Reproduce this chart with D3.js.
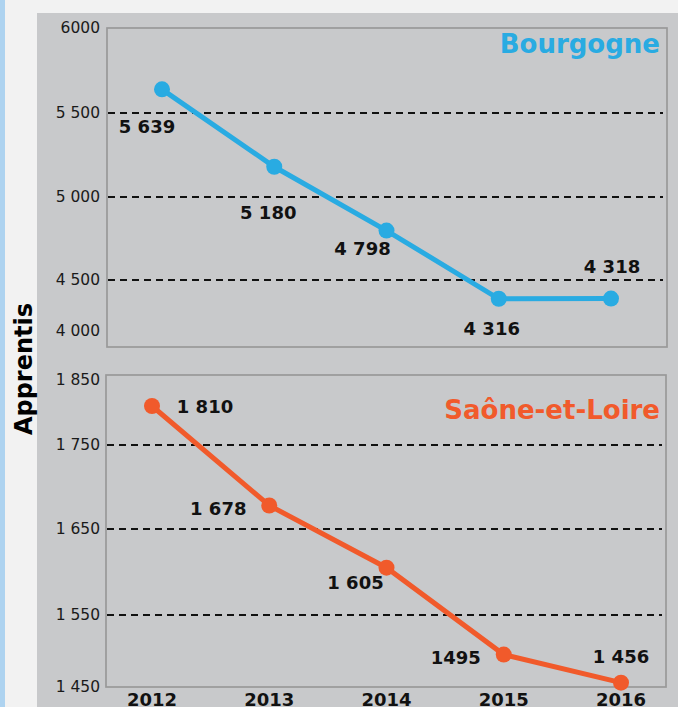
<!DOCTYPE html>
<html>
<head>
<meta charset="utf-8">
<script src="https://cdn.jsdelivr.net/npm/d3@7"></script>
<style>
  body { margin: 0; background: #f2f2f2; }
  svg { display: block; }
  text { font-family: "DejaVu Sans", Verdana, sans-serif; }
</style>
</head>
<body>
<div id="chart"></div>
<script>
/*
*    apprentis - Bourgogne / Saone-et-Loire
*/

var w = 678;
var h = 707;

// data
var years = [2012, 2013, 2014, 2015, 2016];
var bourgogne = [5639, 5180, 4798, 4316, 4318];
var bourgogneLabels = ["5 639", "5 180", "4 798", "4 316", "4 318"];
var saone = [1810, 1678, 1605, 1495, 1456];
var saoneLabels = ["1 810", "1 678", "1 605", "1495", "1 456"];

var bourgogneTicks = [4000, 4500, 5000, 5500, 6000];
var bourgogneTickLabels = ["4 000", "4 500", "5 000", "5 500", "6000"];
var saoneTicks = [1450, 1550, 1650, 1750, 1850];
var saoneTickLabels = ["1 450", "1 550", "1 650", "1 750", "1 850"];

// label placement (offsets from the point)
var bourgogneOffsets = [[-15, 37], [-6, 46], [-24, 18], [-7, 30], [1, -32]];
var saoneOffsets = [[53, 1], [-51, 3], [-31, 15], [-48, 3], [0, -26]];

var blue = "#29abe2";
var orange = "#f15a2b";

var svg = d3.select("#chart")
    .append("svg")
        .attr("width", w)
        .attr("height", h);

// backgrounds
svg.append("rect")
    .attr("x", 0).attr("y", 0)
    .attr("width", 5).attr("height", h)
    .attr("fill", "#aed3f0");

svg.append("rect")
    .attr("x", 37).attr("y", 13)
    .attr("width", w - 37).attr("height", h - 13)
    .attr("fill", "#c8c9cb");

// y title
svg.append("text")
    .attr("transform", "translate(32,369) rotate(-90)")
    .attr("text-anchor", "middle")
    .attr("font-size", 24)
    .attr("font-weight", "bold")
    .attr("fill", "#000")
    .text("Apprentis");

function panel(opt) {
    var g = svg.append("g");

    var x = d3.scalePoint()
        .domain(years)
        .range(opt.xRange);

    // the original axis is uneven -> polylinear scale
    var y = d3.scaleLinear()
        .domain(opt.ticks)
        .range(opt.yRange);

    // frame
    g.append("rect")
        .attr("x", opt.frame[0])
        .attr("y", opt.frame[1])
        .attr("width", opt.frame[2])
        .attr("height", opt.frame[3])
        .attr("fill", "none")
        .attr("stroke", "#999")
        .attr("stroke-width", 1.7);

    // dashed grid (inner ticks only)
    g.selectAll(".grid")
        .data(opt.ticks.slice(1, -1))
        .enter()
        .append("line")
        .attr("x1", opt.frame[0] + 1)
        .attr("x2", opt.frame[0] + opt.frame[2] - 4)
        .attr("y1", function(d){ return y(d); })
        .attr("y2", function(d){ return y(d); })
        .attr("stroke", "#111")
        .attr("stroke-width", 2)
        .attr("stroke-dasharray", "7,5");

    // y tick labels
    var axis = d3.axisLeft(y)
        .tickValues(opt.ticks)
        .tickSize(0)
        .tickPadding(0)
        .tickFormat(function(d, i){ return opt.tickLabels[i]; });

    var ax = g.append("g")
        .attr("transform", "translate(100,0)")
        .call(axis);
    ax.select(".domain").remove();
    ax.selectAll("text")
        .attr("font-family", "DejaVu Sans, Verdana, sans-serif")
        .attr("font-size", 15.5)
        .attr("fill", "#1a1a1a");

    // line
    var line = d3.line()
        .x(function(d, i){ return x(years[i]); })
        .y(function(d){ return y(d); });

    g.append("path")
        .datum(opt.values)
        .attr("d", line)
        .attr("fill", "none")
        .attr("stroke", opt.color)
        .attr("stroke-width", 5);

    g.selectAll(".dot")
        .data(opt.values)
        .enter()
        .append("circle")
        .attr("cx", function(d, i){ return x(years[i]); })
        .attr("cy", function(d){ return y(d); })
        .attr("r", 8)
        .attr("fill", opt.color);

    // value labels
    g.selectAll(".val")
        .data(opt.values)
        .enter()
        .append("text")
        .attr("x", function(d, i){ return x(years[i]) + opt.offsets[i][0]; })
        .attr("y", function(d, i){ return y(d) + opt.offsets[i][1]; })
        .attr("dy", "0.36em")
        .attr("text-anchor", "middle")
        .attr("font-size", 18)
        .attr("font-weight", "bold")
        .attr("fill", "#111")
        .text(function(d, i){ return opt.labels[i]; });

    // title
    g.append("text")
        .attr("x", 660)
        .attr("y", opt.titleY)
        .attr("text-anchor", "end")
        .attr("font-size", 26)
        .attr("font-weight", "bold")
        .attr("fill", opt.color)
        .text(opt.title);

    return x;
}

panel({
    values: bourgogne,
    labels: bourgogneLabels,
    offsets: bourgogneOffsets,
    ticks: bourgogneTicks,
    tickLabels: bourgogneTickLabels,
    yRange: [331, 280, 197, 113, 28],
    xRange: [162, 611],
    frame: [107, 28, 560, 319],
    color: blue,
    title: "Bourgogne",
    titleY: 53
});

var xBottom = panel({
    values: saone,
    labels: saoneLabels,
    offsets: saoneOffsets,
    ticks: saoneTicks,
    tickLabels: saoneTickLabels,
    yRange: [687, 615, 529, 445, 380],
    xRange: [152, 621],
    frame: [106, 375, 560, 312],
    color: orange,
    title: "Saône-et-Loire",
    titleY: 419
});

// x axis labels (cut at the bottom edge, as in the original)
svg.selectAll(".year")
    .data(years)
    .enter()
    .append("text")
    .attr("x", function(d){ return xBottom(d); })
    .attr("y", 706)
    .attr("text-anchor", "middle")
    .attr("font-size", 18)
    .attr("font-weight", "bold")
    .attr("fill", "#111")
    .text(function(d){ return d; });

</script>
</body>
</html>
